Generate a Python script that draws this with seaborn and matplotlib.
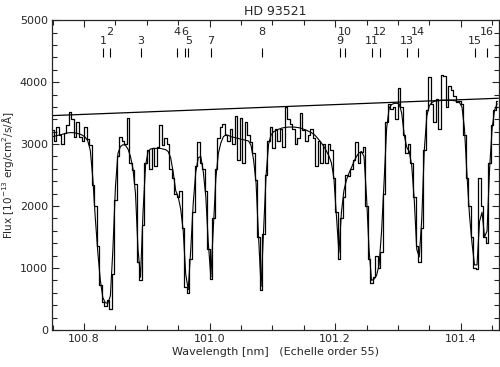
import numpy as np
import pandas as pd
import seaborn as sns
import matplotlib
matplotlib.use("Agg")
import matplotlib.pyplot as plt
from matplotlib.ticker import MultipleLocator

# spectrum sampling: start wavelength and step in nm
wl_start = 100.750
wl_step = 0.004

# observed flux (histogram), 1e-13 erg/cm2/s/A
flux_obs = [
    3230, 3050, 3270, 3150, 3000, 3180, 3300, 3520, 3400, 3120,
    3350, 3120, 3050, 3280, 3080, 2980, 2340, 2000, 1350, 720,
    450, 380, 480, 330, 900, 2100, 2800, 3120, 3050, 3000,
    3420, 2700, 2580, 2350, 1100, 800, 1700, 2700, 2900, 2600,
    2930, 2650, 2950, 3300, 2980, 3100, 3000, 2600, 2450, 2200,
    2150, 2250, 1650, 700, 600, 1150, 1900, 2650, 3030, 2700,
    2600, 2250, 1300, 830, 1800, 2600, 3100, 3270, 3330, 3150,
    3050, 3250, 3000, 3460, 2740, 3420, 2700, 3360, 3150, 3030,
    2850, 2420, 1500, 640, 1550, 2500, 3050, 3280, 2940, 3250,
    3050, 3240, 2950, 3600, 3400, 3320, 3250, 3000, 3100, 3500,
    3230, 3050, 3150, 3250, 3100, 2640, 3050, 2700, 3000, 2700,
    3000, 2900, 2450, 1900, 1150, 1800, 2150, 2500, 2480, 2600,
    2750, 3040, 2700, 2880, 2950, 2000, 1150, 750, 850, 1200,
    1000, 1250, 2200, 3350, 3650, 3560, 3600, 3400, 3900, 3600,
    3150, 2850, 3000, 2700, 2150, 1350, 1100, 1650, 2900, 3550,
    4080, 3650, 3350, 3720, 3250, 4110, 4100, 3600, 3930, 3880,
    3780, 3680, 3700, 3650, 3150, 2450, 2000, 1500, 1000, 980,
    2450, 2000, 1500, 1400, 2700, 3300, 3550, 3700,
]

# profile fit
flux_fit = [
    3120, 3130, 3140, 3150, 3160, 3170, 3180, 3185, 3185, 3180,
    3170, 3160, 3140, 3110, 3050, 2900, 2450, 1800, 1250, 800,
    520, 440, 430, 550, 1300, 2300, 2850, 2960, 2990, 2980,
    2920, 2800, 2600, 2200, 1300, 850, 1900, 2650, 2880, 2920,
    2930, 2930, 2930, 2930, 2920, 2910, 2880, 2780, 2550, 2250,
    2150, 1950, 1600, 900, 650, 1300, 2050, 2550, 2780, 2800,
    2550, 2150, 1400, 850, 1650, 2450, 2850, 3020, 3120, 3150,
    3140, 3120, 3110, 3100, 3090, 3080, 3070, 3060, 3050, 2980,
    2750, 2380, 1500, 700, 1600, 2500, 3000, 3150, 3200, 3220,
    3240, 3255, 3265, 3270, 3275, 3275, 3275, 3270, 3265, 3255,
    3240, 3225, 3205, 3185, 3160, 3120, 3070, 3020, 2960, 2890,
    2810, 2700, 2450, 1850, 1250, 1900, 2250, 2420, 2530, 2620,
    2720, 2800, 2860, 2880, 2800, 2150, 1300, 800, 820, 880,
    1050, 1600, 2400, 3250, 3580, 3640, 3655, 3660, 3650, 3500,
    3150, 2950, 2880, 2650, 2100, 1300, 1180, 1800, 2900, 3450,
    3620, 3670, 3690, 3700, 3705, 3710, 3710, 3710, 3710, 3705,
    3700, 3690, 3670, 3600, 3250, 2500, 1850, 1400, 1050, 1050,
    1750, 1900, 1500, 1600, 2600, 3250, 3550, 3650,
]

# continuum
cont_wave = [100.75, 101.46]
cont_flux = [3460, 3740]

# line identifications
line_ids = ["1", "2", "3", "4", "5", "6", "7", "8",
            "9", "10", "11", "12", "13", "14", "15", "16"]
line_wave = [100.830, 100.841, 100.891, 100.948, 100.966, 100.961, 101.002, 101.083,
             101.208, 101.216, 101.259, 101.271, 101.314, 101.332, 101.423, 101.442]

wave = wl_start + wl_step * np.arange(len(flux_obs))
df = pd.DataFrame({"wave": wave, "obs": flux_obs, "fit": flux_fit})

sns.set_style("ticks")
plt.rcParams["font.family"] = ["DejaVu Sans"]

fig = plt.figure(figsize=(5.0, 3.67), dpi=100)
ax = fig.add_axes([0.104, 0.101, 0.894, 0.844])

sns.lineplot(data=df, x="wave", y="obs", drawstyle="steps-mid", estimator=None,
             color="black", linewidth=0.9, ax=ax)
sns.lineplot(data=df, x="wave", y="fit", estimator=None,
             color="black", linewidth=0.8, ax=ax)
sns.lineplot(x=cont_wave, y=cont_flux, estimator=None, color="black", linewidth=0.9, ax=ax)

ax.vlines(line_wave, 4400, 4550, color="black", linewidth=0.8)
for i, (lab, w) in enumerate(zip(line_ids, line_wave)):
    y = 4660 if i % 2 == 0 else 4810
    ax.text(w, y, lab, ha="center", va="center", fontsize=8)

ax.set_xlim(100.749, 101.461)
ax.set_ylim(0, 5000)
ax.xaxis.set_major_locator(MultipleLocator(0.2))
ax.xaxis.set_minor_locator(MultipleLocator(0.05))
ax.yaxis.set_major_locator(MultipleLocator(1000))
ax.yaxis.set_minor_locator(MultipleLocator(200))
ax.xaxis.set_major_formatter(plt.FormatStrFormatter("%.1f"))
ax.tick_params(which="both", direction="in", top=True, right=True, labelsize=8, width=0.8, pad=3)
ax.tick_params(which="major", length=5)
ax.tick_params(which="minor", length=3.5)
for s in ax.spines.values():
    s.set_linewidth(0.9)

ax.set_title("HD 93521", fontsize=9, pad=4)
ax.set_xlabel("Wavelength [nm]   (Echelle order 55)", fontsize=8, labelpad=2)
ax.set_ylabel("Flux [10$^{-13}$ erg/cm$^{2}$/s/Å]", fontsize=7.5)
ax.yaxis.set_label_coords(-0.08, 0.5)

fig.savefig("out.png", dpi=100)
